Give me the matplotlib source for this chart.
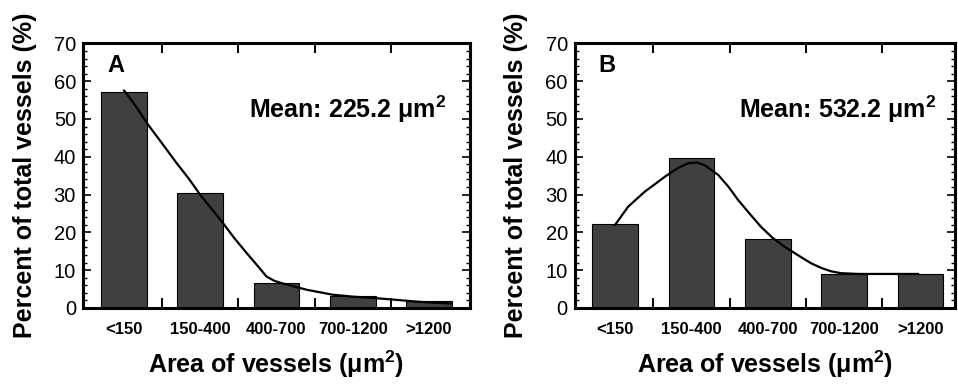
import matplotlib
matplotlib.use("Agg")
import matplotlib.pyplot as plt
from matplotlib.ticker import MultipleLocator, FixedLocator

plt.rcParams["font.family"] = ["Liberation Sans", "DejaVu Sans"]
plt.rcParams["mathtext.fontset"] = "custom"
plt.rcParams["mathtext.rm"] = "Liberation Sans:bold"
plt.rcParams["mathtext.bf"] = "Liberation Sans:bold"
plt.rcParams["mathtext.default"] = "bf"

categories = ["<150", "150-400", "400-700", "700-1200", ">1200"]

# panel A
pct_a = [57.1, 30.3, 6.7, 3.2, 1.9]
curve_a_x = [0.0, 0.15, 0.30, 0.50, 0.69, 0.85, 1.0, 1.15, 1.30, 1.45, 1.61, 1.75,
             1.87, 1.97, 2.08, 2.40, 2.74, 3.00, 3.30, 3.60, 3.83, 4.05, 4.28]
curve_a_y = [57.5, 53.5, 48.9, 43.5, 38.3, 34.2, 29.9, 26.2, 22.4, 18.4, 14.5, 11.2,
             8.3, 7.2, 6.5, 4.8, 3.5, 3.0, 2.6, 2.1, 1.7, 1.4, 1.2]
mean_a = "Mean: 225.2 μm$^2$"

# panel B
pct_b = [22.2, 39.6, 18.2, 9.0, 9.0]
curve_b_x = [0.0, 0.17, 0.39, 0.65, 0.82, 0.96, 1.07, 1.17, 1.35, 1.48, 1.61, 1.76,
             1.91, 2.06, 2.22, 2.40, 2.57, 2.70, 2.83, 2.96, 3.20, 3.50, 3.97]
curve_b_y = [22.0, 26.8, 30.8, 34.7, 37.0, 38.3, 38.5, 37.8, 35.2, 32.2, 28.6, 25.0,
             21.5, 18.6, 16.2, 13.9, 11.8, 10.6, 9.7, 9.2, 9.0, 9.0, 9.0]
mean_b = "Mean: 532.2 μm$^2$"

fig = plt.figure(figsize=(9.58, 3.84), dpi=100)
ax_a = fig.add_axes([0.0866, 0.198, 0.404, 0.689])
ax_b = fig.add_axes([0.5999, 0.198, 0.3967, 0.689])

panels = [
    (ax_a, pct_a, curve_a_x, curve_a_y, mean_a, "A", (-0.54, 4.54), 0.94, -0.12),
    (ax_b, pct_b, curve_b_x, curve_b_y, mean_b, "B", (-0.53, 4.45), 0.951, -0.123),
]

for ax, pct, cx, cy, mean_txt, letter, xlim, mean_x, ylab_x in panels:
    xs = list(range(len(categories)))
    ax.bar(xs, pct, width=0.6, color="#404040", edgecolor="black", linewidth=0.8, zorder=2)
    ax.plot(cx, cy, color="black", lw=1.6, zorder=3)

    ax.set_xlim(*xlim)
    ax.set_ylim(0, 70)

    # labels at bar centres, tick marks between the bars
    ax.xaxis.set_major_locator(FixedLocator([0.5, 1.5, 2.5, 3.5]))
    ax.xaxis.set_minor_locator(FixedLocator(xs))
    ax.set_xticklabels([], minor=False)
    ax.set_xticklabels(categories, minor=True, fontsize=12, fontweight="bold")
    ax.tick_params(axis="x", which="major", direction="in", length=7, width=1.4,
                   top=True, bottom=True)
    ax.tick_params(axis="x", which="minor", length=0, pad=10)

    ax.yaxis.set_major_locator(MultipleLocator(10))
    ax.yaxis.set_minor_locator(MultipleLocator(2))
    ax.tick_params(axis="y", which="major", direction="in", length=6, width=1.2,
                   left=True, right=True, labelsize=14.5, pad=5)
    ax.tick_params(axis="y", which="minor", direction="in", length=3, width=1.0,
                   left=True, right=True)

    for s in ax.spines.values():
        s.set_linewidth(2.2)

    ax.set_ylabel("Percent of total vessels (%)", fontsize=18, fontweight="bold")
    ax.yaxis.set_label_coords(ylab_x, 0.5)
    ax.set_xlabel("Area of vessels (μm$^2$)", fontsize=18, fontweight="bold")
    ax.xaxis.set_label_coords(0.5, -0.155)

    ax.text(mean_x, 0.718, mean_txt, transform=ax.transAxes, ha="right", va="baseline",
            fontsize=18, fontweight="bold")
    ax.text(0.062, 0.89, letter, transform=ax.transAxes, ha="left", va="baseline",
            fontsize=17, fontweight="bold")

fig.savefig("out.png", dpi=100)
